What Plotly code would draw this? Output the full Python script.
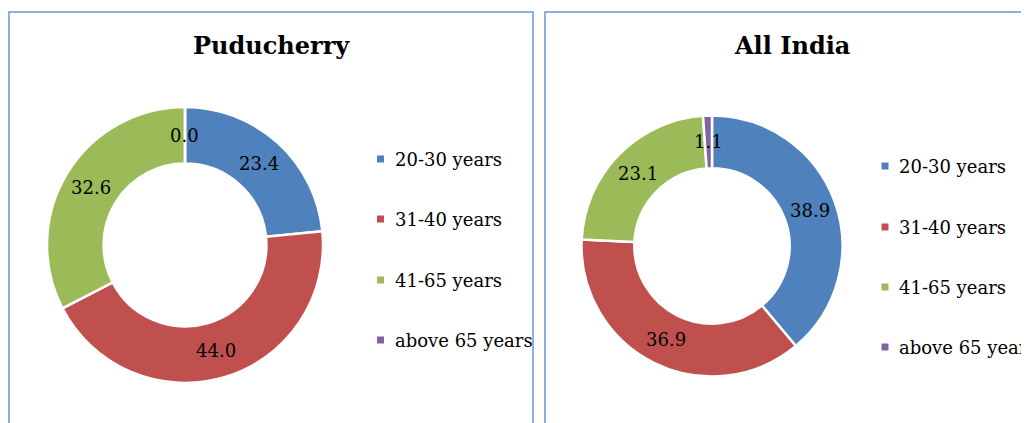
import math
import plotly.graph_objects as go

# ---- data ----
categories = ["20-30 years", "31-40 years", "41-65 years", "above 65 years"]
puducherry_values = [23.4, 44.0, 32.6, 0.0]
all_india_values = [38.9, 36.9, 23.1, 1.1]
panel_titles = ["Puducherry", "All India"]
colors = ["#4F81BD", "#C0504D", "#9BBB59", "#8064A2"]

OFF = 8  # page body margin offset
W, H = 1029 - OFF, 423 - OFF
FONT = "Georgia, 'DejaVu Serif', serif"
BORDER = "#6A96D2"


def px_x(x):
    return (x - OFF) / W


def px_y(y):
    return 1 - (y - OFF) / H


# pixel geometry for the two donuts: (center x, center y, outer r, hole ratio)
pies = [
    (185, 245, 138, 0.59),
    (712, 246, 130.5, 0.595),
]
legend_geo = [
    (380.5, 393, [159, 219, 280, 340]),
    (885, 897, [166, 227, 287, 347]),
]
title_pos = [(271, 46), (792, 46)]
panels = [(9, 12, 533, 440), (545, 12, 1045, 440)]

fig = go.Figure()
annotations = []
shapes = []

for idx, (vals, title) in enumerate(zip([puducherry_values, all_india_values], panel_titles)):
    cx, cy, r, hole = pies[idx]
    fig.add_trace(go.Pie(
        labels=categories,
        values=vals,
        hole=hole,
        sort=False,
        direction="clockwise",
        rotation=0,
        marker=dict(colors=colors, line=dict(color="white", width=2.5)),
        textinfo="none",
        hoverinfo="label+value",
        showlegend=False,
        domain=dict(x=[px_x(cx - r), px_x(cx + r)], y=[px_y(cy + r), px_y(cy - r)]),
    ))

    # data labels at mid-angle, mid-ring (like the original)
    total = sum(vals)
    cum = 0.0
    rmid = r * (1 + hole) / 2
    for v in vals:
        mid = (cum + v / 2) / total * 2 * math.pi
        cum += v
        lx = cx + rmid * math.sin(mid)
        ly = cy - rmid * math.cos(mid)
        annotations.append(dict(
            x=px_x(lx), y=px_y(ly), xref="paper", yref="paper",
            text=f"{v:.1f}", showarrow=False,
            font=dict(family=FONT, size=18, color="black"),
            xanchor="center", yanchor="middle",
        ))

    # title
    tx, ty = title_pos[idx]
    annotations.append(dict(
        x=px_x(tx), y=px_y(ty), xref="paper", yref="paper",
        text=f"<b>{title}</b>", showarrow=False,
        font=dict(family=FONT, size=24, color="black"),
        xanchor="center", yanchor="middle",
    ))

    # manual legend
    mx, txx, rows = legend_geo[idx]
    for cat, col, ry in zip(categories, colors, rows):
        shapes.append(dict(
            type="rect", xref="paper", yref="paper",
            x0=px_x(mx - 3.5), x1=px_x(mx + 3.5),
            y0=px_y(ry + 3.5), y1=px_y(ry - 3.5),
            fillcolor=col, line=dict(width=0),
        ))
        annotations.append(dict(
            x=px_x(txx), y=px_y(ry), xref="paper", yref="paper",
            text=cat, showarrow=False,
            font=dict(family=FONT, size=18, color="black"),
            xanchor="left", yanchor="middle",
        ))

    # panel border
    x0, y0, x1, y1 = panels[idx]
    shapes.append(dict(
        type="rect", xref="paper", yref="paper",
        x0=px_x(x0), x1=px_x(x1), y0=px_y(y1), y1=px_y(y0),
        line=dict(color=BORDER, width=1.5), fillcolor="rgba(0,0,0,0)",
        layer="below",
    ))

fig.update_layout(
    width=W, height=H,
    margin=dict(l=0, r=0, t=0, b=0),
    paper_bgcolor="white",
    plot_bgcolor="white",
    annotations=annotations,
    shapes=shapes,
    showlegend=False,
)

fig.write_html("out.html")
